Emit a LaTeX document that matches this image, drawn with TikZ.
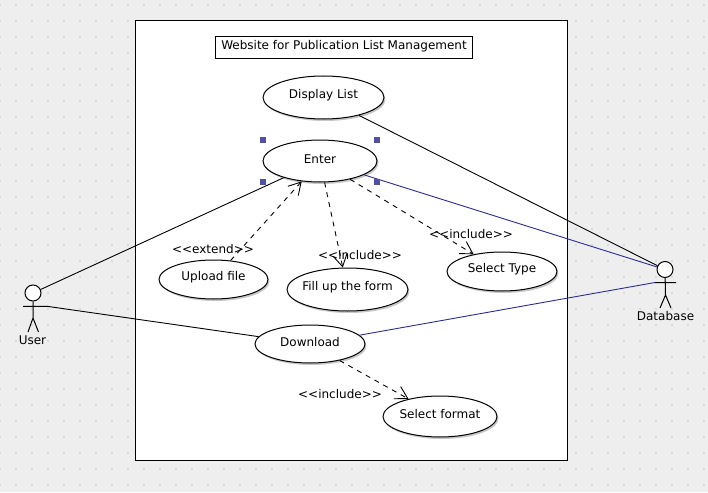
\documentclass[tikz,border=0pt]{standalone}
\usepackage{fontspec}
\setmainfont{DejaVu Sans}
\usetikzlibrary{arrows.meta,shapes.geometric}
\definecolor{bgc}{HTML}{EEEEEE}
\definecolor{dotc}{HTML}{DADADA}
\definecolor{bluel}{HTML}{2B2B9A}
\definecolor{handle}{HTML}{5050A8}
\tikzset{
  x=1pt,y=-1pt,
  lbl/.style={font=\fontsize{12}{14}\selectfont,inner sep=0pt,text=black},
  usecase/.style={draw=black,line width=1pt,fill=white,ellipse,inner sep=0pt},
  assoc/.style={draw=black,line width=0.9pt},
  bassoc/.style={draw=bluel,line width=0.9pt},
  dep/.style={draw=black,line width=0.9pt,dash pattern=on 5pt off 5pt,-{Straight Barb[length=12pt,width=14pt,line width=0.9pt]}},
  head/.style={circle,draw=black,line width=1pt,fill=white,minimum size=16pt,inner sep=0pt},
  limb/.style={draw=black,line width=1pt},
  hnd/.style={fill=handle,draw=none,minimum size=6pt,inner sep=0pt,rectangle}
}
\newcommand{\ucase}[6]{%
  \fill[black,opacity=.22] (#2+1.5,#3+2) ellipse [x radius=#4,y radius=#5];
  \node[usecase,minimum width=#4*2pt,minimum height=#5*2pt] (#1) at (#2,#3) {};
  \node[lbl] (#1t) at (#2,#3-2) {#6};
}
\begin{document}
\begin{tikzpicture}
\useasboundingbox (0,0) rectangle (708,492);
\fill[bgc] (0,0) rectangle (708,492);
\foreach \i in {0,...,44}{\foreach \j in {0,...,30}{\fill[dotc] (\i*16-1,\j*16+4) rectangle ++(2,2);}}
\node[draw=black,line width=1pt,fill=white,rectangle,minimum width=431.5pt,minimum height=439.5pt,inner sep=0pt] (sys) at (351.25,240.25) {};
\node[draw=black,line width=1pt,fill=white,rectangle,minimum width=257pt,minimum height=22.5pt,inner sep=0pt,lbl] (title) at (343.5,47.75) {};
\node[lbl] (titlet) at (344,46.5) {Website for Publication List Management};

\ucase{display}{323.5}{97.5}{60.5}{21.5}{Display List}
\ucase{enter}{320}{161}{57}{21}{Enter}
\ucase{upload}{213.5}{279.5}{54.5}{19.5}{Upload file}
\ucase{fill}{347.5}{289.5}{60.5}{21.5}{Fill up the form}
\ucase{seltype}{502}{271.5}{55}{19.5}{Select Type}
\ucase{download}{310}{344}{55}{19}{Download}
\ucase{selfmt}{440}{416.5}{57}{20.5}{Select format}

% actors
\node[head] (user) at (33,293) {};
\coordinate (userarmL) at (23,306.3);
\coordinate (userarmR) at (47,306.3);
\coordinate (userhip) at (33,318);
\coordinate (userfootL) at (28,332);
\coordinate (userfootR) at (38.5,332);
\draw[limb] (user) -- (userhip) -- (userfootL) (userhip) -- (userfootR) (userarmL) -- (userarmR);
\node[lbl] (userl) at (32.5,340) {User};

\node[head] (db) at (665,269.5) {};
\coordinate (dbarmL) at (655,282.5);
\coordinate (dbarmR) at (676,282.5);
\coordinate (dbhip) at (665.5,295);
\coordinate (dbfootL) at (660,308);
\coordinate (dbfootR) at (671,308);
\draw[limb] (db) -- (dbhip) -- (dbfootL) (dbhip) -- (dbfootR) (dbarmL) -- (dbarmR);
\node[lbl] (dbl) at (665.5,316) {Database};

% associations
\draw[assoc] (user) -- (enter);
\draw[assoc] (userarmR) -- (download);
\draw[assoc] (display) -- (db);
\draw[bassoc] (enter) -- (db);
\draw[bassoc] (download) -- (dbarmL);

% dependencies
\draw[dep] (upload) -- (enter);
\draw[dep] (enter) -- (fill);
\draw[dep] (enter) -- (seltype);
\draw[dep] (download) -- (selfmt);

\node[lbl] (l1) at (213,249.5) {<{}<extend>{}>};
\node[lbl] (l2) at (360,255.5) {<{}<include>{}>};
\node[lbl] (l3) at (471,234) {<{}<include>{}>};
\node[lbl] (l4) at (340,394) {<{}<include>{}>};

\node[hnd] (h1) at (263,140) {};
\node[hnd] (h2) at (377,140) {};
\node[hnd] (h3) at (263,182) {};
\node[hnd] (h4) at (377,182) {};
\end{tikzpicture}
\end{document}
